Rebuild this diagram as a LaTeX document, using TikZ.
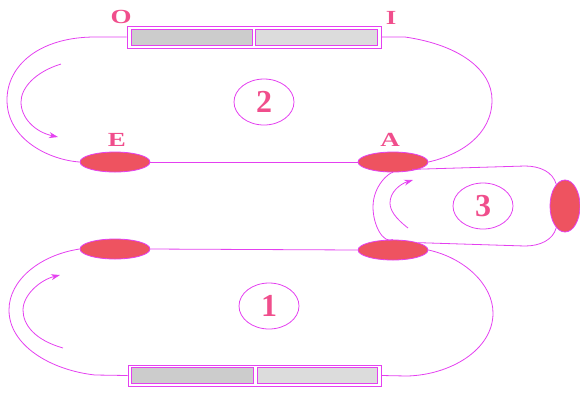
\documentclass[tikz,border=0pt]{standalone}
\usepackage{fontspec}
\setmainfont{Liberation Serif}
\usetikzlibrary{shapes.geometric,arrows.meta}
\definecolor{mag}{RGB}{228,64,240}
\definecolor{pinktxt}{RGB}{240,78,140}
\definecolor{redfill}{RGB}{238,83,96}
\definecolor{gA}{RGB}{204,204,204}
\definecolor{gB}{RGB}{220,220,220}
\newcommand{\wide}[1]{\scalebox{1.35}[1]{#1}}
\tikzset{
  wire/.style={draw=mag, line width=0.8pt},
  blob/.style={ellipse, draw=mag, line width=0.8pt, fill=redfill, inner sep=0pt},
  hblob/.style={blob, minimum width=70pt, minimum height=20pt},
  vblob/.style={blob, minimum width=30pt, minimum height=52pt},
  numcirc/.style={ellipse, draw=mag, line width=0.8pt, minimum width=60pt, minimum height=46pt, inner sep=0pt, text=pinktxt, font=\fontsize{32}{34}\selectfont\bfseries},
  lbl/.style={text=pinktxt, font=\fontsize{20}{22}\selectfont\bfseries, inner sep=0pt},
  barout/.style={draw=mag, line width=0.8pt, fill=white, inner sep=0pt},
  barin/.style={draw=mag, line width=0.8pt, inner sep=0pt, minimum height=16pt},
  turn/.style={draw=mag, line width=0.8pt, -{Stealth[length=9pt,width=6pt]}}
}
\begin{document}
\begin{tikzpicture}[x=1pt,y=-1pt]
\useasboundingbox (0,0) rectangle (580,392);
% top bar
\node[barout, minimum width=254pt, minimum height=22pt] (topbar) at (254,37) {};
\node[barin, fill=gA, minimum width=121pt] (topL) at (192,37) {};
\node[barin, fill=gB, minimum width=122pt] (topR) at (316,37) {};
% bottom bar
\node[barout, minimum width=253pt, minimum height=21pt] (botbar) at (254.5,375.5) {};
\node[barin, fill=gA, minimum width=122pt] (botL) at (192,375.5) {};
\node[barin, fill=gB, minimum width=120pt] (botR) at (317,375.5) {};
% blobs
\node[hblob] (E) at (115,162) {};
\node[hblob] (A) at (393,162) {};
\node[hblob] (B1) at (115,249) {};
\node[hblob] (B2) at (393,250) {};
\node[vblob] (R) at (565,206) {};
% number circles
\node[numcirc] (n2) at (264,102) {2};
\node[numcirc] (n1) at (269,306) {1};
\node[numcirc] (n3) at (483,206) {3};
% labels
\node[lbl] (lO) at (121,17) {\wide{O}};
\node[lbl] (lI) at (391,18) {\wide{I}};
\node[lbl] (lE) at (117,140) {\wide{E}};
\node[lbl] (lA) at (390,140) {\wide{A}};
% loop 2
\draw[wire] (topbar.west) -- (95,37) .. controls (40,37) and (7,65) .. (7,100)
  .. controls (7,140) and (50,160) .. (E.west);
\draw[wire] (E.east) -- (A.west);
\draw[wire] (topbar.east) -- (405,37) .. controls (460,45) and (492,70) .. (492,100)
  .. controls (492,135) and (460,155) .. (A.east);
% loop 1
\draw[wire] (B1.west) .. controls (40,255) and (9,280) .. (9,310)
  .. controls (9,345) and (50,370) .. (95,375) -- (botbar.west);
\draw[wire] (B1.east) -- (B2.west);
\draw[wire] (B2.east) .. controls (465,258) and (493,285) .. (493,313)
  .. controls (493,350) and (450,375) .. (407,376) -- (botbar.east);
% loop 3
\draw[wire] (A.south east) ++(-6,0) -- (525,166) .. controls (540,166) and (553,172) .. (R.112);
\draw[wire] (R.248) .. controls (553,240) and (540,246) .. (525,246) -- (B2.north east);
\draw[wire] (B2.north) .. controls (383,244) and (373,225) .. (373,207)
  .. controls (373,185) and (390,172) .. (A.south);
% direction arrows
\draw[turn] (61,64) .. controls (35,72) and (21,88) .. (21,102)
  .. controls (21,118) and (35,132) .. (58,137);
\draw[turn] (63,348) .. controls (35,340) and (23,325) .. (23,310)
  .. controls (23,295) and (40,280) .. (60,275);
\draw[turn] (408,228) .. controls (395,218) and (390,210) .. (390,203)
  .. controls (390,192) and (400,184) .. (413,180);
\end{tikzpicture}
\end{document}
